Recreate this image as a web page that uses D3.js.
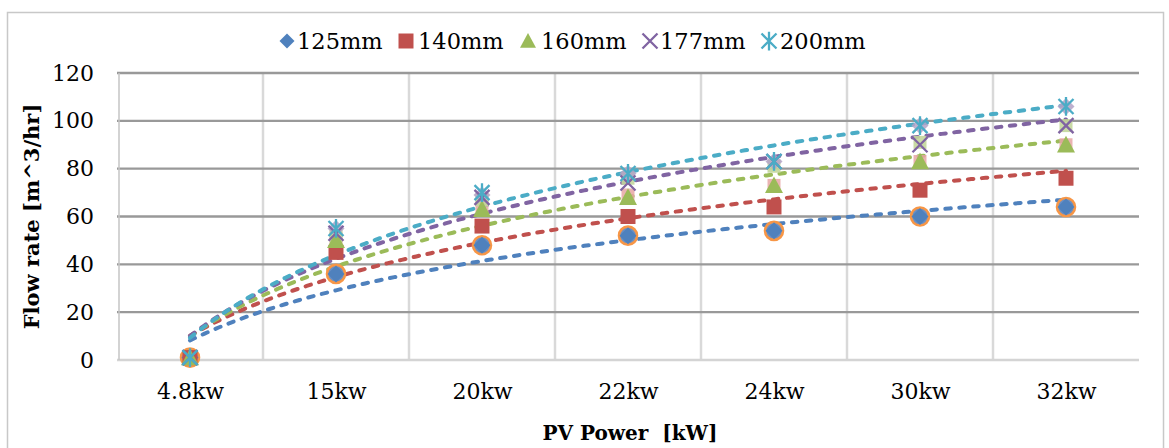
<!DOCTYPE html>
<html>
<head>
<meta charset="utf-8">
<script src="https://cdn.jsdelivr.net/npm/d3@7"></script>
<style>
  html, body { margin: 0; padding: 0; background: #fff; }
  svg { display: block; }
  text { font-family: "DejaVu Serif", "Liberation Serif", serif; fill: #000; }
</style>
</head>
<body>
<svg id="chart" width="1169" height="448"></svg>
<script>
// PV power categories on the x axis
const categories = ["4.8kw", "15kw", "20kw", "22kw", "24kw", "30kw", "32kw"];

// Flow rate [m^3/hr] per pipe diameter
const flow125 = [1, 36, 48, 52, 54, 60, 64];
const flow140 = [1, 45, 56, 60, 64, 71, 76];
const flow160 = [1, 50, 63, 68, 73, 83, 90];
const flow177 = [1, 53, 68, 74, 83, 90, 98];
const flow200 = [1, 55, 70, 78, 83, 98, 106];

// Secondary (faded) marker sets plotted underneath the main ones
const ring125 = [1, 36, 48, 52, 54, 60, 64];
const pale160 = [1, 51, 64, 69, 73, 83, 90];
const pale177 = [1, 52, 67, 76, 81, 91, 98];
const pale200 = [1, 55, 69, 78, 83, 98, 106];

const seriesNames = ["125mm", "140mm", "160mm", "177mm", "200mm"];
const yTicks = [0, 20, 40, 60, 80, 100, 120];

const svg = d3.select("#chart");

const plot = { left: 117, right: 1139, top: 73, bottom: 360 };

// index 1..7 -> horizontal position (categories centred in equal slots)
const x = d3.scaleLinear().domain([0.5, categories.length + 0.5]).range([plot.left, plot.right]);
const y = d3.scaleLinear().domain([0, 120]).range([plot.bottom, plot.top]);

// outer chart frame
svg.append("rect")
  .attr("x", 7.5).attr("y", 12.5).attr("width", 1156).attr("height", 460)
  .attr("fill", "none").attr("stroke", "#c8c8c8").attr("stroke-width", 1.5);

// vertical grid lines between categories
const grid = svg.append("g");
grid.selectAll("line.v")
  .data(d3.range(1, categories.length).map(i => i + 0.5))
  .join("line")
  .attr("x1", d => x(d)).attr("x2", d => x(d))
  .attr("y1", y(120)).attr("y2", y(0))
  .attr("stroke", "#d9d9d9").attr("stroke-width", 2.5);

// horizontal grid lines
grid.selectAll("line.h")
  .data(yTicks.filter(t => t > 0))
  .join("line")
  .attr("x1", plot.left).attr("x2", plot.right)
  .attr("y1", d => y(d)).attr("y2", d => y(d))
  .attr("stroke", "#999999").attr("stroke-width", 2.4);

// baseline and left axis line
grid.append("line")
  .attr("x1", plot.left).attr("x2", plot.right)
  .attr("y1", y(0)).attr("y2", y(0))
  .attr("stroke", "#d4d4d4").attr("stroke-width", 2.5);
grid.append("line")
  .attr("x1", plot.left + 2).attr("x2", plot.left + 2)
  .attr("y1", y(120)).attr("y2", y(0))
  .attr("stroke", "#c4c4c4").attr("stroke-width", 1.5);

// y axis labels
const yAxis = d3.axisLeft(y).tickValues(yTicks).tickSize(0).tickPadding(23);
svg.append("g")
  .attr("transform", `translate(${plot.left},0)`)
  .call(yAxis)
  .call(g => g.select(".domain").remove())
  .call(g => g.selectAll("text")
    .attr("font-family", "DejaVu Serif").attr("font-size", 22).attr("fill", "#000"));

// x axis labels
const xAxis = d3.axisBottom(x).tickValues(d3.range(1, categories.length + 1))
  .tickFormat(i => categories[i - 1]).tickSize(0).tickPadding(23);
svg.append("g")
  .attr("transform", `translate(0,${plot.bottom})`)
  .call(xAxis)
  .call(g => g.select(".domain").remove())
  .call(g => g.selectAll("text")
    .attr("font-family", "DejaVu Serif").attr("font-size", 22).attr("fill", "#000"));

// axis titles
svg.append("text")
  .attr("x", 630).attr("y", 440)
  .attr("text-anchor", "middle")
  .attr("font-size", 20).attr("font-weight", "bold")
  .attr("xml:space", "preserve")
  .text("PV Power  [kW]");
svg.append("text")
  .attr("transform", `translate(39,${(plot.top + plot.bottom) / 2}) rotate(-90)`)
  .attr("text-anchor", "middle")
  .attr("font-size", 21).attr("font-weight", "bold")
  .text("Flow rate [m^3/hr]");

// marker shapes
const shapes = {
  diamond: r => `M0,${-r}L${r},0L0,${r}L${-r},0Z`,
  square: r => `M${-r},${-r}H${r}V${r}H${-r}Z`,
  triangle: r => `M0,${-r}L${r},${r * 0.85}H${-r}Z`,
  cross: r => `M${-r},${-r}L${r},${r}M${-r},${r}L${r},${-r}`,
  star: r => `M${-r},${-r}L${r},${r}M${-r},${r}L${r},${-r}M0,${-r * 1.25}V${r * 1.25}`
};

const series = [
  { name: seriesNames[0], values: flow125, color: "#4F81BD", shape: "diamond", r: 8.5, filled: true },
  { name: seriesNames[1], values: flow140, color: "#C0504D", shape: "square", r: 7.5, filled: true },
  { name: seriesNames[2], values: flow160, color: "#9BBB59", shape: "triangle", r: 9, filled: true },
  { name: seriesNames[3], values: flow177, color: "#8064A2", shape: "cross", r: 7.5, filled: false },
  { name: seriesNames[4], values: flow200, color: "#4BACC6", shape: "star", r: 7.5, filled: false }
];

// logarithmic trend line y = a*ln(i) + b fitted over category index
function logFit(values) {
  const xs = values.map((_, i) => Math.log(i + 1));
  const mx = d3.mean(xs), my = d3.mean(values);
  let sxy = 0, sxx = 0;
  xs.forEach((xv, i) => { sxy += (xv - mx) * (values[i] - my); sxx += (xv - mx) ** 2; });
  const a = sxy / sxx, b = my - a * mx;
  return t => a * Math.log(t) + b;
}

const line = d3.line().x(d => x(d[0])).y(d => y(d[1])).curve(d3.curveLinear);
const trendG = svg.append("g");
series.forEach(s => {
  const f = logFit(s.values);
  const pts = d3.range(1, categories.length + 0.001, 0.05).map(t => [t, f(t)]);
  trendG.append("path")
    .attr("d", line(pts))
    .attr("fill", "none")
    .attr("stroke", s.color)
    .attr("stroke-width", 4)
    .attr("stroke-linecap", "round")
    .attr("stroke-dasharray", "5.5,8.5");
});

// markers
const markG = svg.append("g");
function drawMarkers(values, shape, r, fill, stroke, sw, opacity) {
  markG.append("g").selectAll("path")
    .data(values)
    .join("path")
    .attr("transform", (d, i) => `translate(${x(i + 1)},${y(d)})`)
    .attr("d", shapes[shape](r))
    .attr("fill", fill)
    .attr("stroke", stroke)
    .attr("stroke-width", sw)
    .attr("opacity", opacity);
}

// faded underlying markers
markG.append("g").selectAll("circle")
  .data(ring125)
  .join("circle")
  .attr("cx", (d, i) => x(i + 1)).attr("cy", d => y(d))
  .attr("r", 9)
  .attr("fill", "#6a8fc4").attr("stroke", "#F79646").attr("stroke-width", 2.6);
drawMarkers(pale160, "square", 6.5, "#e6a6a4", "none", 0, 0.85);
drawMarkers(pale177, "square", 6.5, "#c3d69b", "none", 0, 0.9);
drawMarkers(pale200, "diamond", 8.5, "#b3a2c7", "none", 0, 0.85);

// main series markers
series.forEach(s => {
  drawMarkers(s.values, s.shape, s.r,
    s.filled ? s.color : "none",
    s.filled ? "none" : s.color,
    s.filled ? 0 : 2.3, 1);
});

// legend
const legendItems = [
  { x: 287, tx: 297 }, { x: 406, tx: 418 }, { x: 528, tx: 541 },
  { x: 650, tx: 660 }, { x: 769, tx: 780 }
];
const legend = svg.append("g");
series.forEach((s, i) => {
  const it = legendItems[i];
  legend.append("path")
    .attr("transform", `translate(${it.x},41)`)
    .attr("d", shapes[s.shape](s.shape === "triangle" ? 8 : 7.5))
    .attr("fill", s.filled ? s.color : "none")
    .attr("stroke", s.filled ? "none" : s.color)
    .attr("stroke-width", s.filled ? 0 : 2.3);
  legend.append("text")
    .attr("x", it.tx).attr("y", 49)
    .attr("font-size", 22.5)
    .text(s.name);
});
</script>
</body>
</html>
